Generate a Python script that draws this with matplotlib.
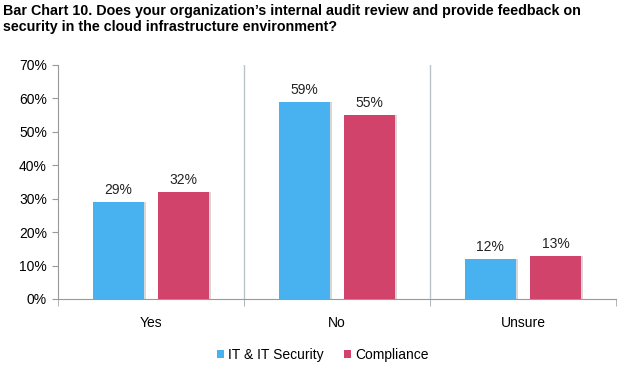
import numpy as np
import matplotlib
matplotlib.use("Agg")
import matplotlib.pyplot as plt
from matplotlib.ticker import PercentFormatter

plt.rcParams['font.family'] = ['Liberation Sans', 'DejaVu Sans']

categories = ['Yes', 'No', 'Unsure']
it_security = [29, 59, 12]
compliance = [32, 55, 13]
series_names = ['IT & IT Security', 'Compliance']
colors = ['#48B2F1', '#D2436B']

fig = plt.figure(figsize=(6.33, 3.75), dpi=100)
ax = fig.add_axes([0.0916, 0.2027, 0.8815, 0.624])

x = np.arange(len(categories))
w = 0.27
off = 0.175
for vals, sign, col, name in [(it_security, -1, colors[0], series_names[0]),
                              (compliance, 1, colors[1], series_names[1])]:
    # faint shadow behind each bar
    ax.bar(x + sign * off + 0.012, vals, w, color='#d8d8d8', zorder=2)
    bars = ax.bar(x + sign * off, vals, w, color=col, label=name, zorder=3)
    for b, v in zip(bars, vals):
        ax.text(b.get_x() + b.get_width() / 2, v + 1.5, f'{v}%',
                ha='center', va='bottom', fontsize=10, color='#222222')

ax.set_xlim(-0.5, len(categories) - 0.5)
ax.set_ylim(0, 70)
ax.set_yticks(range(0, 71, 10))
ax.yaxis.set_major_formatter(PercentFormatter(decimals=0))
ax.set_xticks(x)
ax.set_xticklabels(categories)
ax.tick_params(axis='x', length=0, pad=12, labelsize=10)
ax.set_xticks(np.arange(len(categories) + 1) - 0.5, minor=True)
ax.tick_params(axis='x', which='minor', length=5, color='#a0aab0')
ax.tick_params(axis='y', length=4, color='#999999', labelsize=10, pad=4)

for b in range(1, len(categories)):
    ax.axvline(b - 0.5, color='#b8c4c8', lw=1, zorder=1)

for s in ['top', 'right']:
    ax.spines[s].set_visible(False)
ax.spines['left'].set_color('#999999')
ax.spines['bottom'].set_color('#999999')

fig.text(0.005, 0.99, "Bar Chart 10. Does your organization’s internal audit review and provide feedback on\n"
         "security in the cloud infrastructure environment?",
         ha='left', va='top', fontsize=10.3, fontweight='bold', linespacing=1.25)

handles, labels = ax.get_legend_handles_labels()
fig.legend(handles, labels, loc='center', bbox_to_anchor=(0.51, 0.053), ncol=2,
           frameon=False, fontsize=10, handlelength=0.5, handleheight=0.5,
           handletextpad=0.3, columnspacing=1.5)

fig.savefig('out.png', dpi=100)
